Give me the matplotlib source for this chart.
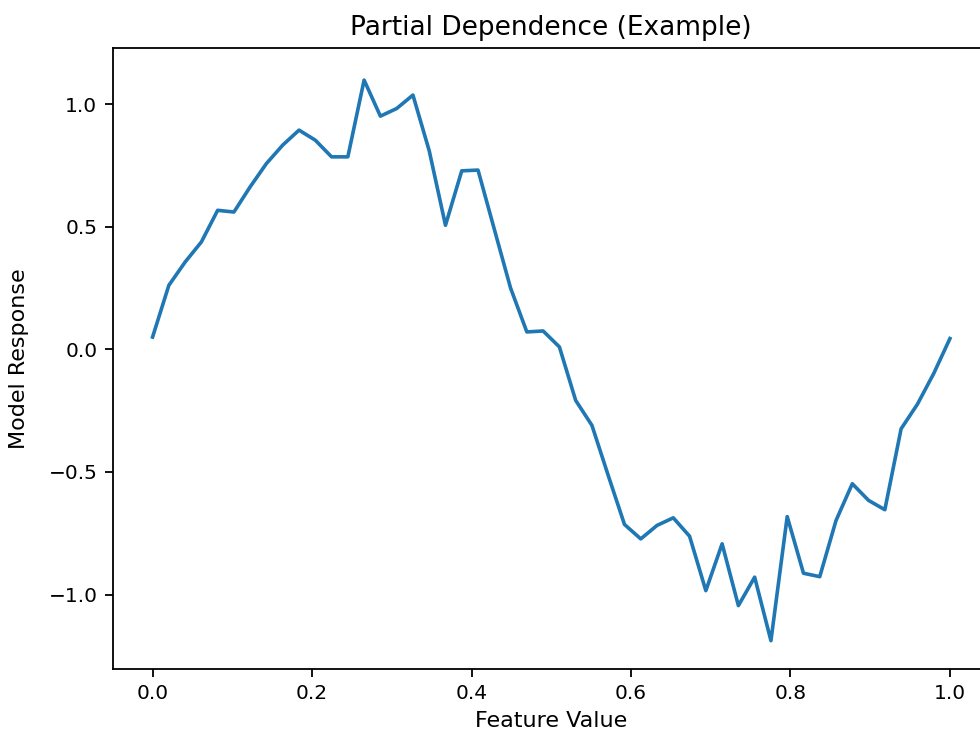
import numpy as np
import matplotlib
matplotlib.use("Agg")
import matplotlib.pyplot as plt

feature_value = np.linspace(0, 1, 50)
model_response = [
    0.050, 0.261, 0.356, 0.438, 0.567, 0.560, 0.663, 0.758, 0.833, 0.894,
    0.853, 0.785, 0.785, 1.098, 0.951, 0.982, 1.037, 0.810, 0.506, 0.728,
    0.731, 0.490, 0.250, 0.071, 0.075, 0.010, -0.208, -0.310, -0.514, -0.714,
    -0.773, -0.718, -0.687, -0.762, -0.984, -0.793, -1.045, -0.929, -1.188, -0.682,
    -0.913, -0.927, -0.698, -0.548, -0.616, -0.654, -0.324, -0.224, -0.099, 0.044,
]

fig = plt.figure(figsize=(9.8, 7.38), dpi=100)
ax = fig.add_axes([0.115, 0.094, 0.895, 0.841])
ax.plot(feature_value, model_response, color="#1f77b4", linewidth=2.6)
ax.set_xlim(-0.05, 1.05)
ax.set_ylim(-1.302, 1.229)
ax.set_xticks([0.0, 0.2, 0.4, 0.6, 0.8, 1.0])
ax.set_yticks([-1.0, -0.5, 0.0, 0.5, 1.0])
ax.tick_params(labelsize=14.5, length=6, width=1.3, pad=5)
for s in ax.spines.values():
    s.set_linewidth(1.3)
ax.set_title("Partial Dependence (Example)", fontsize=19, pad=9)
ax.set_xlabel("Feature Value", fontsize=16, labelpad=6)
ax.set_ylabel("Model Response", fontsize=16, labelpad=14)
fig.savefig("out.png", dpi=100)
